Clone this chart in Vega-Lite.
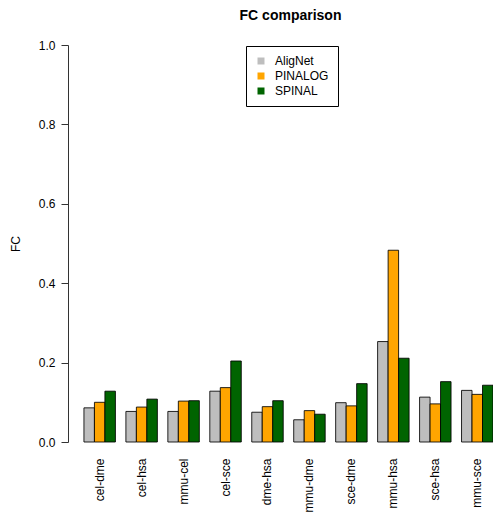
{
  "$schema": "https://vega.github.io/schema/vega-lite/v6.json",
  "autosize": {"type": "none"},
  "width": 425,
  "height": 397,
  "padding": {"left": 68, "top": 45, "right": 0, "bottom": 71},
  "background": "white",
  "title": {"text": "FC comparison", "fontSize": 14, "font": "Liberation Sans", "fontWeight": "bold", "color": "black", "anchor": "middle", "dx": 10, "offset": 16},
  "config": {"view": {"stroke": null}, "font": "Liberation Sans"},
  "data": {"values": [
    {"pair": "cel-dme", "method": "AligNet", "fc": 0.086},
    {"pair": "cel-dme", "method": "PINALOG", "fc": 0.100},
    {"pair": "cel-dme", "method": "SPINAL", "fc": 0.128},
    {"pair": "cel-hsa", "method": "AligNet", "fc": 0.077},
    {"pair": "cel-hsa", "method": "PINALOG", "fc": 0.088},
    {"pair": "cel-hsa", "method": "SPINAL", "fc": 0.108},
    {"pair": "mmu-cel", "method": "AligNet", "fc": 0.077},
    {"pair": "mmu-cel", "method": "PINALOG", "fc": 0.103},
    {"pair": "mmu-cel", "method": "SPINAL", "fc": 0.104},
    {"pair": "cel-sce", "method": "AligNet", "fc": 0.128},
    {"pair": "cel-sce", "method": "PINALOG", "fc": 0.137},
    {"pair": "cel-sce", "method": "SPINAL", "fc": 0.204},
    {"pair": "dme-hsa", "method": "AligNet", "fc": 0.075},
    {"pair": "dme-hsa", "method": "PINALOG", "fc": 0.089},
    {"pair": "dme-hsa", "method": "SPINAL", "fc": 0.104},
    {"pair": "mmu-dme", "method": "AligNet", "fc": 0.056},
    {"pair": "mmu-dme", "method": "PINALOG", "fc": 0.079},
    {"pair": "mmu-dme", "method": "SPINAL", "fc": 0.070},
    {"pair": "sce-dme", "method": "AligNet", "fc": 0.099},
    {"pair": "sce-dme", "method": "PINALOG", "fc": 0.091},
    {"pair": "sce-dme", "method": "SPINAL", "fc": 0.147},
    {"pair": "mmu-hsa", "method": "AligNet", "fc": 0.253},
    {"pair": "mmu-hsa", "method": "PINALOG", "fc": 0.483},
    {"pair": "mmu-hsa", "method": "SPINAL", "fc": 0.211},
    {"pair": "sce-hsa", "method": "AligNet", "fc": 0.113},
    {"pair": "sce-hsa", "method": "PINALOG", "fc": 0.096},
    {"pair": "sce-hsa", "method": "SPINAL", "fc": 0.152},
    {"pair": "mmu-sce", "method": "AligNet", "fc": 0.130},
    {"pair": "mmu-sce", "method": "PINALOG", "fc": 0.120},
    {"pair": "mmu-sce", "method": "SPINAL", "fc": 0.143}
  ]},
  "mark": {"type": "bar", "stroke": "black", "strokeWidth": 1, "strokeOpacity": 0.85},
  "encoding": {
    "x": {
      "field": "pair", "type": "nominal", "sort": null,
      "scale": {"paddingInner": 0.25, "paddingOuter": 0.19, "align": 1},
      "axis": {"title": null, "domain": false, "ticks": false, "labelAngle": -90, "labelAlign": "right", "labelBaseline": "middle", "labelPadding": 16, "labelFontSize": 12, "labelColor": "black", "labelFont": "Liberation Sans"}
    },
    "xOffset": {"field": "method", "type": "nominal", "sort": ["AligNet", "PINALOG", "SPINAL"], "scale": {"paddingInner": 0, "paddingOuter": 0}},
    "y": {
      "field": "fc", "type": "quantitative",
      "scale": {"domain": [0, 1], "nice": false, "zero": true},
      "axis": {"title": "FC", "titleFontSize": 12, "titleFontWeight": "normal", "titleColor": "black", "titleFont": "Liberation Sans", "titlePadding": 16, "values": [0, 0.2, 0.4, 0.6, 0.8, 1.0], "format": ".1f", "grid": false, "tickSize": 7, "tickColor": "#333", "domainColor": "#333", "labelFontSize": 12, "labelColor": "black", "labelFont": "Liberation Sans", "labelPadding": 6, "labelAngle": 0}
    },
    "fill": {
      "field": "method", "type": "nominal",
      "scale": {"domain": ["AligNet", "PINALOG", "SPINAL"], "range": ["#BEBEBE", "#FFA500", "#006400"]},
      "legend": {"title": null, "orient": "none", "legendX": 178, "legendY": 1, "strokeColor": "black", "padding": 9, "symbolType": "square", "symbolSize": 49, "symbolStrokeWidth": 0, "labelFontSize": 12, "labelColor": "black", "labelFont": "Liberation Sans", "rowPadding": 3, "labelOffset": 8, "fillColor": "white"}
    }
  }
}
